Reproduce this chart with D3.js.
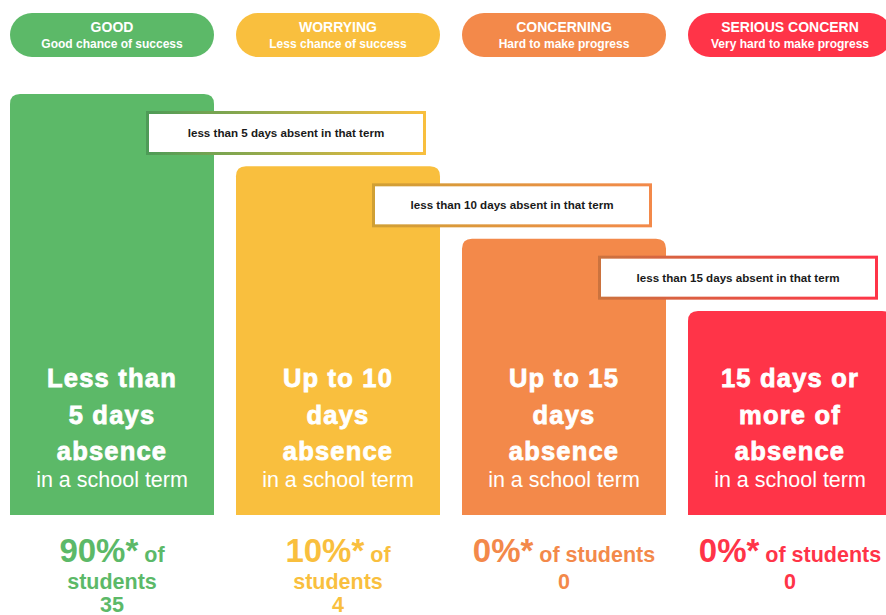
<!DOCTYPE html>
<html>
<head>
<meta charset="utf-8">
<script src="https://cdn.jsdelivr.net/npm/d3@7"></script>
<style>
  body { margin: 0; background: #fff; overflow: hidden; }
  text { font-family: "Liberation Sans", Arial, sans-serif; }
</style>
</head>
<body>
<div id="svganchor"></div>
<script>
let width = 886;
let height = 615;

// data
let categories = ["GOOD", "WORRYING", "CONCERNING", "SERIOUS CONCERN"];
let subtitles = ["Good chance of success", "Less chance of success", "Hard to make progress", "Very hard to make progress"];
let colours = ["#5cb968", "#f9bf3e", "#f3894a", "#ff3448"];
let headlines = [
  ["Less than", "5 days", "absence"],
  ["Up to 10", "days", "absence"],
  ["Up to 15", "days", "absence"],
  ["15 days or", "more of", "absence"]
];
let thresholds = [
  "less than 5 days absent in that term",
  "less than 10 days absent in that term",
  "less than 15 days absent in that term"
];
let percents = [90, 10, 0, 0];
let counts = [35, 4, 0, 0];

let svg = d3.select("#svganchor").append("svg").attr("width", width).attr("height", height);

let xScale = d3.scaleBand().domain(categories).range([10, 892]).paddingInner(22 / 226);
let topScale = d3.scalePoint().domain(categories).range([94, 311]);
let colBottom = 515;
let bw = xScale.bandwidth();

let data = categories.map(function (c, i) {
  return { cat: c, sub: subtitles[i], colour: colours[i], lines: headlines[i], pct: percents[i], n: counts[i], i: i };
});

// header pills
let pills = svg.selectAll(".pill").data(data).enter().append("g").attr("class", "pill")
  .attr("transform", d => "translate(" + xScale(d.cat) + ",13)");
pills.append("rect").attr("width", bw).attr("height", 44).attr("rx", 22).attr("fill", d => d.colour);
pills.append("text").attr("x", bw / 2).attr("y", 19).attr("text-anchor", "middle")
  .attr("fill", "#fff").attr("font-size", 14).attr("font-weight", "bold").text(d => d.cat);
pills.append("text").attr("x", bw / 2).attr("y", 35).attr("text-anchor", "middle")
  .attr("fill", "#fff").attr("font-size", 12).attr("font-weight", "bold").text(d => d.sub);

// columns with rounded tops
function topRounded(x, y, w, h, r) {
  return "M" + x + "," + (y + h) + "V" + (y + r) + "Q" + x + "," + y + " " + (x + r) + "," + y +
    "H" + (x + w - r) + "Q" + (x + w) + "," + y + " " + (x + w) + "," + (y + r) + "V" + (y + h) + "Z";
}
svg.selectAll(".col").data(data).enter().append("path").attr("class", "col")
  .attr("d", d => topRounded(xScale(d.cat), topScale(d.cat), bw, colBottom - topScale(d.cat), 10))
  .attr("fill", d => d.colour);

// headline text in columns
let colText = svg.selectAll(".coltext").data(data).enter().append("g").attr("class", "coltext")
  .attr("transform", d => "translate(" + (xScale(d.cat) + bw / 2) + ",0)");
colText.each(function (d) {
  let g = d3.select(this);
  d.lines.forEach(function (l, k) {
    g.append("text").attr("y", 387 + k * 36.5).attr("text-anchor", "middle").attr("fill", "#fff")
      .attr("stroke", "#fff").attr("stroke-width", 0.8)
      .attr("font-size", 25.5).attr("font-weight", "bold").attr("letter-spacing", 1.2).text(l);
  });
  g.append("text").attr("y", 487).attr("text-anchor", "middle").attr("fill", "#fff")
    .attr("font-size", 21.5).text("in a school term");
});

// threshold boxes with gradient borders
let defs = svg.append("defs");
thresholds.forEach(function (t, i) {
  let x0 = xScale(categories[i]) + 136;
  let y0 = topScale(categories[i]) + 17;
  let grad = defs.append("linearGradient").attr("id", "grad" + i)
    .attr("gradientUnits", "userSpaceOnUse").attr("x1", x0).attr("x2", x0 + 280).attr("y1", 0).attr("y2", 0);
  grad.append("stop").attr("offset", "0%").attr("stop-color", d3.color(colours[i]).darker(0.5).formatHex());
  grad.append("stop").attr("offset", "100%").attr("stop-color", colours[i + 1]);
  svg.append("rect").attr("x", x0 + 1.5).attr("y", y0 + 1.5).attr("width", 277).attr("height", 41)
    .attr("fill", "#fff").attr("stroke", "url(#grad" + i + ")").attr("stroke-width", 3);
  svg.append("text").attr("x", x0 + 140).attr("y", y0 + 26).attr("text-anchor", "middle")
    .attr("fill", "#1a1a1a").attr("font-size", 11.6).attr("font-weight", "bold").text(t);
});

// bottom statistics
let stats = svg.selectAll(".stat").data(data).enter().append("g").attr("class", "stat")
  .attr("transform", d => "translate(" + (xScale(d.cat) + bw / 2) + ",0)");
stats.each(function (d) {
  let g = d3.select(this);
  let line1 = g.append("text").attr("y", 562).attr("text-anchor", "middle").attr("fill", d.colour).attr("font-weight", "bold");
  line1.append("tspan").attr("font-size", 33).text(d.pct + "%");
  line1.append("tspan").attr("font-size", 33).text("*");
  let tail = line1.append("tspan").attr("font-size", 21.5).text(" of students");
  let y = 589;
  if (line1.node().getComputedTextLength() > 195) {
    tail.text(" of");
    g.append("text").attr("y", y).attr("text-anchor", "middle").attr("fill", d.colour)
      .attr("font-weight", "bold").attr("font-size", 21.5).text("students");
    y += 23;
  }
  g.append("text").attr("y", y).attr("text-anchor", "middle").attr("fill", d.colour)
    .attr("font-weight", "bold").attr("font-size", 21.5).text(d.n);
});
</script>
</body>
</html>
